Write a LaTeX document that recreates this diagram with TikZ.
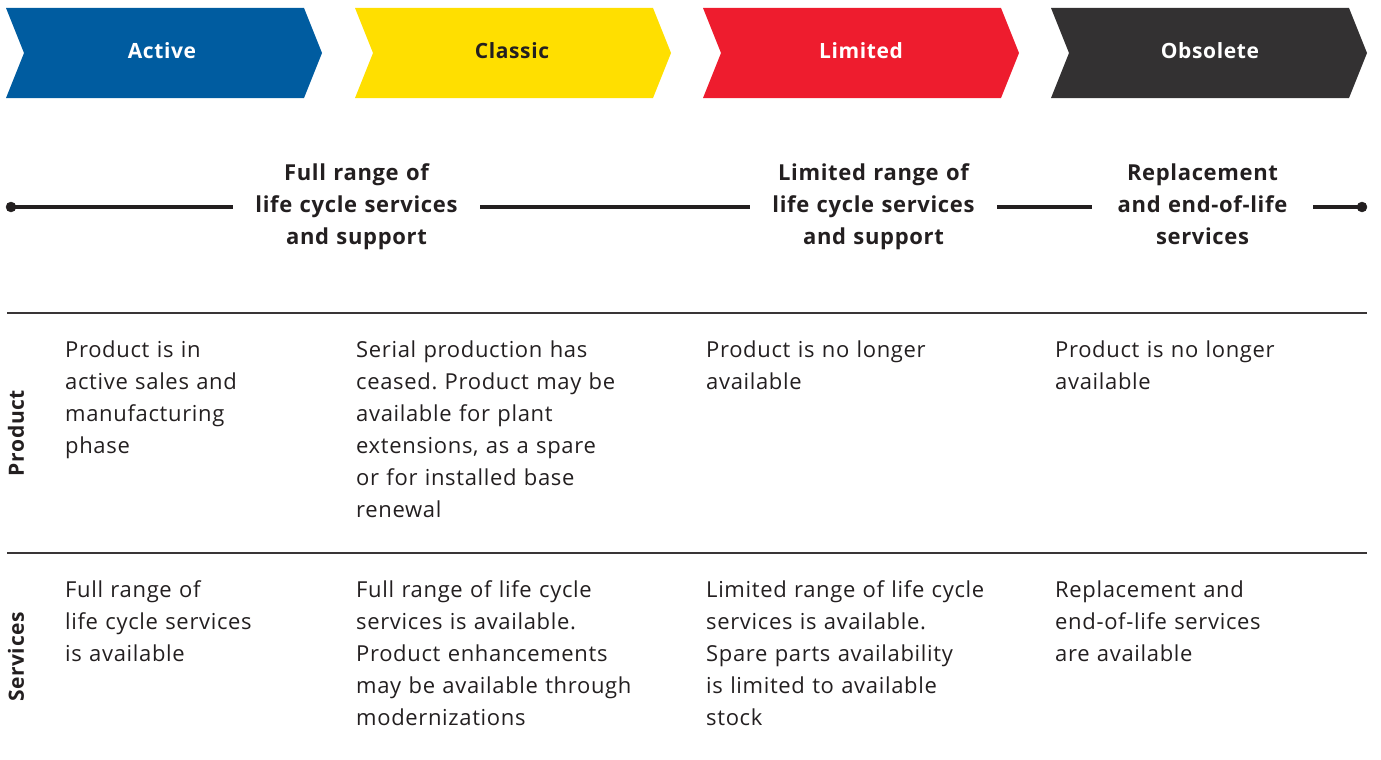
\documentclass[tikz,border=0pt]{standalone}
\usepackage{fontspec}
\setmainfont{Open Sans}[LetterSpace=3]
\definecolor{abbblue}{HTML}{005CA0}
\definecolor{abbyellow}{HTML}{FFDF00}
\definecolor{abbred}{HTML}{EE1C2E}
\definecolor{abbdark}{HTML}{333132}
\definecolor{ink}{HTML}{231F20}
\frenchspacing
\begin{document}
\begin{tikzpicture}[x=1pt,y=-1pt,
    phase/.style={inner sep=0pt,font=\bfseries\fontsize{21}{25}\selectfont},
    offer/.style={anchor=base,align=center,inner sep=0pt,text=ink,font=\bfseries\fontsize{22}{32}\selectfont},
    cell/.style={anchor=base west,align=left,inner sep=0pt,text width=300pt,text=ink,font=\fontsize{22}{32}\selectfont},
    side/.style={rotate=90,inner sep=0pt,text=ink,font=\bfseries\fontsize{21}{25}\selectfont},
    tline/.style={ink,line width=3.2pt},
    rule/.style={ink!90,line width=1.4pt}]
  \useasboundingbox (0,0) rectangle (1381,760);
  % phase chevrons
  \foreach \x/\c in {6/abbblue,355/abbyellow,703/abbred,1051/abbdark}
    \fill[\c] (\x,8) -- ++(298,0) -- ++(18,45) -- ++(-18,45) -- ++(-298,0) -- ++(18,-45) -- cycle;
  \node[phase,white] (active) at (162,51) {Active};
  \node[phase,ink] (classic) at (512,51) {Classic};
  \node[phase,white] (limited) at (861,51) {Limited};
  \node[phase,white] (obsolete) at (1210,51) {Obsolete};
  % time line
  \node[offer,text width=247pt] (full) at (356.5,180) {Full range of\\life cycle services\\and support};
  \node[offer,text width=247pt] (part) at (873.5,180) {Limited range of\\life cycle services\\and support};
  \node[offer,text width=221pt] (repl) at (1202.5,180) {Replacement\\and end-of-life\\services};
  \coordinate (start) at (11,207);
  \coordinate (end) at (1362,207);
  \filldraw[ink] (start) circle (5pt);
  \filldraw[ink] (end) circle (5pt);
  \draw[tline] (start) -- (full.west |- start);
  \draw[tline] (full.east |- start) -- (part.west |- start);
  \draw[tline] (part.east |- start) -- (repl.west |- start);
  \draw[tline] (repl.east |- start) -- (end);
  % table
  \draw[rule] (7,313) -- (1367,313);
  \draw[rule] (7,553) -- (1367,553);
  \node[side] (product) at (16,433) {Product};
  \node[side] (services) at (16,657) {Services};
  \node[cell] (p1) at (65,357) {Product is in\\active sales and\\manufacturing\\phase};
  \node[cell] (p2) at (356,357) {Serial production has\\ceased. Product may be\\available for plant\\extensions, as a spare\\or for installed base\\renewal};
  \node[cell] (p3) at (706,357) {Product is no longer\\available};
  \node[cell] (p4) at (1055,357) {Product is no longer\\available};
  \node[cell] (s1) at (65,597) {Full range of\\life cycle services\\is available};
  \node[cell] (s2) at (356,597) {Full range of life cycle\\services is available.\\Product enhancements\\may be available through\\modernizations};
  \node[cell] (s3) at (706,597) {Limited range of life cycle\\services is available.\\Spare parts availability\\is limited to available\\stock};
  \node[cell] (s4) at (1055,597) {Replacement and\\end-of-life services\\are available};
\end{tikzpicture}
\end{document}
